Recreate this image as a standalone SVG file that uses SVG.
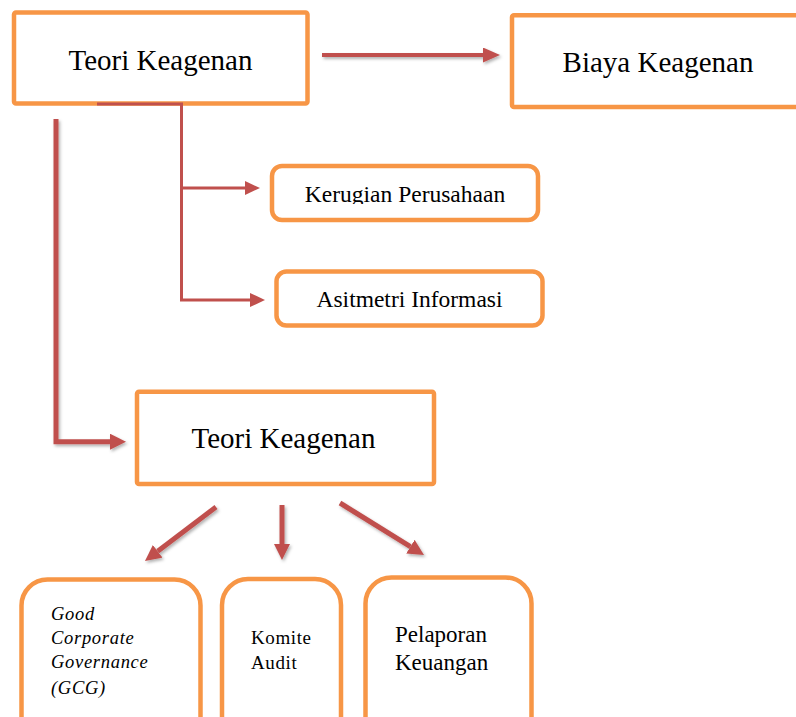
<svg xmlns="http://www.w3.org/2000/svg" width="796" height="717" viewBox="0 0 796 717">
<style>
.box{fill:#fff;stroke:#F79646;stroke-width:4.5}
.t{font-family:"Liberation Serif","Times New Roman",serif;fill:#000}
.conn{fill:none;stroke:#C0504D}
</style>
<defs>
<filter id="sh" filterUnits="userSpaceOnUse" x="0" y="0" width="796" height="717">
<feDropShadow dx="1.5" dy="2" stdDeviation="1.5" flood-color="#000" flood-opacity="0.3"/>
</filter>
<marker id="a17" markerUnits="userSpaceOnUse" markerWidth="18" markerHeight="16" refX="0" refY="7.5" orient="auto"><path d="M0,0 L17,7.5 L0,15 z" fill="#C0504D"/></marker>
<marker id="a16" markerUnits="userSpaceOnUse" markerWidth="17" markerHeight="17" refX="0" refY="8" orient="auto"><path d="M0,0 L16,8 L0,16 z" fill="#C0504D"/></marker>
<marker id="a15" markerUnits="userSpaceOnUse" markerWidth="16" markerHeight="15" refX="0" refY="7" orient="auto"><path d="M0,0 L15,7 L0,14 z" fill="#C0504D"/></marker>
<clipPath id="clipK"><rect x="270" y="160" width="275" height="44"/></clipPath>
</defs>

<g id="node-teori-top">
<rect class="box" x="14" y="12.5" width="293.5" height="91" rx="2"/>
<text class="t" x="160.5" y="69.5" font-size="29" text-anchor="middle">Teori Keagenan</text>
</g>
<g id="node-biaya">
<rect class="box" x="512" y="15.3" width="300" height="91.7" rx="2"/>
<text class="t" x="658" y="72" font-size="29" text-anchor="middle">Biaya Keagenan</text>
</g>
<g id="node-kerugian">
<rect class="box" x="272" y="166" width="266" height="54" rx="10"/>
<text class="t" x="405" y="202" font-size="23.5" text-anchor="middle" clip-path="url(#clipK)">Kerugian Perusahaan</text>
</g>
<g id="node-asitmetri">
<rect class="box" x="276.5" y="271.5" width="266" height="54" rx="10"/>
<text class="t" x="409.5" y="307" font-size="23.5" text-anchor="middle">Asitmetri Informasi</text>
</g>
<g id="node-teori-mid">
<rect class="box" x="137" y="391.7" width="297" height="92.3" rx="2"/>
<text class="t" x="283.5" y="448" font-size="29" text-anchor="middle">Teori Keagenan</text>
</g>
<g id="node-gcg">
<rect class="box" x="21.5" y="579.5" width="179" height="170" rx="26"/>
<text class="t" font-size="18.5" font-style="italic" letter-spacing="0.7">
<tspan x="51" y="620">Good</tspan>
<tspan x="51" y="644">Corporate</tspan>
<tspan x="51" y="668">Governance</tspan>
<tspan x="51" y="694">(GCG)</tspan>
</text>
</g>
<g id="node-komite">
<rect class="box" x="222" y="579" width="119" height="170" rx="26"/>
<text class="t" font-size="19" letter-spacing="0.6">
<tspan x="251" y="644">Komite</tspan>
<tspan x="251" y="669">Audit</tspan>
</text>
</g>
<g id="node-pelaporan">
<rect class="box" x="365.5" y="577.5" width="166" height="170" rx="26"/>
<text class="t" font-size="23">
<tspan x="395" y="642">Pelaporan</tspan>
<tspan x="395" y="670">Keuangan</tspan>
</text>
</g>

<g id="connectors">
<line class="conn" x1="322" y1="55" x2="483" y2="55" stroke-width="4" marker-end="url(#a17)" filter="url(#sh)"/>
<polyline class="conn" points="56,119 56,441.7 110,441.7" stroke-width="5" marker-end="url(#a16)" filter="url(#sh)"/>
<polyline class="conn" points="97,104 181.5,104 181.5,300 250,300" stroke-width="3" marker-end="url(#a15)"/>
<line class="conn" x1="181.5" y1="188" x2="245" y2="188" stroke-width="3" marker-end="url(#a15)"/>
<line class="conn" x1="216" y1="507" x2="157.7" y2="551.3" stroke-width="5" marker-end="url(#a16)" filter="url(#sh)"/>
<line class="conn" x1="282" y1="505" x2="282" y2="544" stroke-width="5" marker-end="url(#a16)" filter="url(#sh)"/>
<line class="conn" x1="340" y1="503" x2="410.4" y2="546.6" stroke-width="5" marker-end="url(#a16)" filter="url(#sh)"/>
</g>
</svg>
